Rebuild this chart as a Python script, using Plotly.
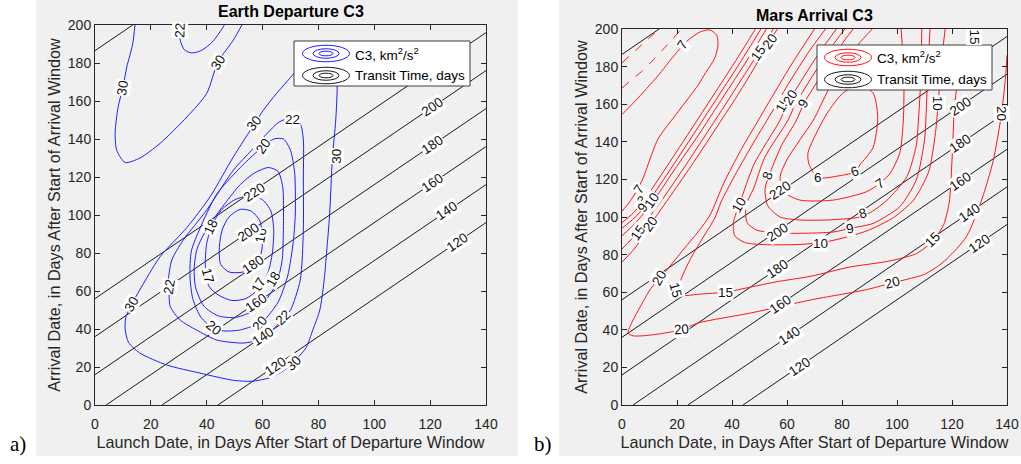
import plotly.graph_objects as go

W, H = 1021, 464
FONT = "Liberation Sans, Arial, sans-serif"
AXC = "#262626"
BLUE = "rgb(30,30,255)"
RED = "rgb(255,20,20)"
BLACK = "rgb(25,25,25)"

# ---------------- axes ticks ----------------
launch_ticks = [0, 20, 40, 60, 80, 100, 120, 140]
arrival_ticks = [0, 20, 40, 60, 80, 100, 120, 140, 160, 180, 200]

# ---------------- transit time lines ----------------
tof_levels = [220, 200, 180, 160, 140, 120]
tof_launch_start = [0, 0, 0, 4, 24, 44]
tof_arrival_start = [56, 36, 16, 0, 0, 0]
tof_launch_end = [140, 140, 140, 140, 140, 140]
tof_arrival_end = [196, 176, 156, 136, 116, 96]
tof_corner_launch = [0, 13.5]
tof_corner_arrival = [186.5, 200]

tof_labels_earth = [(220, 57, 112), (200, 54.8, 91), (200, 121, 157), (180, 56.7, 73.7),
                    (180, 121, 137), (160, 58, 53.7), (160, 121, 117), (140, 60.2, 35.8),
                    (140, 126, 102.6), (120, 64.5, 20.5), (120, 129.7, 85.5)]
tof_labels_mars = [(220, 57.5, 114), (200, 56.4, 92), (200, 123, 159), (180, 56.7, 72.5),
                   (180, 123, 139), (160, 57.5, 53.5), (160, 123, 119), (140, 61, 37),
                   (140, 126.5, 102.5), (120, 64.7, 20.7), (120, 130, 86)]

# ---------------- Earth departure C3 contours (launch, arrival) ----------------
earth_c3_16 = [(45, 74), (44.5, 82), (45.5, 92), (48, 99), (52, 103), (56, 102), (59, 97), (60, 88),
               (59.5, 80), (57, 74), (53, 70), (48, 70), (45, 74)]
earth_c3_17 = [(40, 66), (39.5, 75), (40, 85), (42, 95), (45.5, 103), (50, 108), (55, 110), (60, 108),
               (63, 102), (64, 92), (63.5, 80), (62, 70), (58.5, 61), (54, 56), (49, 55), (44, 58),
               (41, 62), (40, 66)]
earth_c3_18 = [(36, 62), (35.5, 72), (36.5, 82), (39, 90), (42, 97), (46.5, 106), (52, 116), (57, 122),
               (62, 125), (65.5, 123), (67.2, 115), (67.5, 100), (67.4, 88), (67, 76), (65, 64),
               (61, 55), (56, 49), (50, 46), (44, 47), (39, 52), (36, 62)]
earth_c3_20 = [(42.3, 40.6), (38, 46), (35, 56), (34, 68), (34.5, 81), (37.6, 93), (43.6, 111),
               (51.4, 124), (57, 132), (60.2, 136), (64, 140), (67.5, 140), (70, 134), (71.5, 122),
               (71.7, 100), (71, 86), (69, 68), (65.5, 54), (60, 44), (52, 39.5), (46, 39), (42.3, 40.6)]
earth_c3_22 = [(26.5, 62), (26.9, 52), (30.5, 44.7), (36.3, 39.5), (43.6, 34.2), (53, 32.6), (58, 34),
               (62.7, 38), (67.4, 45.8), (70, 50), (73.5, 65.8), (74.6, 92), (74.6, 120), (74.6, 139.5),
               (73.5, 148), (70.5, 151), (66, 149), (61, 142), (56, 134), (49.6, 123.7), (40, 102.6),
               (31.6, 86.8), (27.5, 76.3), (26.3, 66), (26.5, 62)]
earth_c3_22_top = [(30.5, 200), (30.5, 192), (32, 187), (34.5, 185.3), (38, 186.5), (42.3, 191.5),
                   (45.9, 199), (46.3, 200)]
earth_c3_30 = [(79, 190), (74, 181), (71.3, 174.7), (65, 164), (60.2, 155), (57.3, 148.4), (49.5, 130.5),
               (41.2, 109.6), (32.9, 93.4), (23.3, 78), (16, 60.5), (13, 52.6), (11, 46), (10.8, 40),
               (12, 33), (16, 27.4), (25.8, 21), (37.6, 16.8), (49.5, 13), (56, 12.5), (63, 14.5),
               (68, 18.5), (72, 24), (75.5, 30), (78, 39.5), (80.5, 50), (82, 65), (83, 81.6), (84, 100),
               (85, 130), (86.2, 150), (86.7, 168), (86, 182), (83, 189), (79, 190)]
earth_c3_30_top = [(14.3, 200), (13.5, 190), (11.4, 178), (10, 167), (8.3, 157), (7.2, 143), (7.8, 134),
                   (10.8, 127.6), (16.1, 130), (23.3, 137.7), (32.9, 151.6), (40, 164), (44, 180.5),
                   (49.5, 192), (52.6, 200)]

earth_c3_labels = [("30", 10, 167, -80), ("22", 30.5, 197, -88), ("30", 44, 180.5, -58),
                   ("30", 57, 148, -50), ("22", 70.6, 150.5, 0), ("20", 60.2, 136, -55),
                   ("30", 86.2, 131, -90), ("18", 41.5, 94, -65), ("17", 40.5, 68.4, 75),
                   ("22", 26.5, 62, -80), ("30", 13, 53, -60), ("20", 42.3, 40.6, 40),
                   ("16", 59.5, 89, -80), ("17", 58.5, 63, -60), ("18", 63.8, 66, -60),
                   ("20", 59, 43, -50), ("22", 67.4, 45.8, -45), ("30", 71, 22, -45)]

# ---------------- Mars arrival C3 contours (launch, arrival) ----------------
mars_c3_6 = [(68, 128), (67.6, 134), (69.5, 141), (74.5, 155), (80.4, 166), (86.5, 170), (91.3, 166),
             (93, 153), (91.3, 137), (86.5, 127.7), (84.7, 124), (79.3, 122), (71.3, 121), (68, 128)]
mars_c3_7 = [(91, 200), (86, 192), (80, 180), (75, 167.5), (69.6, 151.6), (64.7, 141), (59.9, 130.3),
             (57.5, 121.5), (58.7, 113.5), (64.7, 109), (76.8, 109), (89, 113.5), (93.8, 118),
             (97.5, 123.2), (101, 134), (102.3, 151.6), (102.5, 175), (101.5, 200)]
mars_c3_8 = [(84, 200), (78, 188), (71, 172), (66, 160), (63.5, 151.6), (58, 138), (54, 124), (52, 115),
             (53, 106), (57.5, 100), (64.7, 98.4), (76, 98.5), (86.5, 100), (91, 103), (96.4, 109),
             (103.6, 121.5), (107, 138), (107.8, 151.6), (108.7, 175), (109, 200)]
mars_c3_9 = [(81, 200), (75, 188), (68, 172), (63, 160), (60.4, 151.6), (52, 132), (47.8, 115), (45, 106),
             (45.5, 97), (49, 93), (58.7, 91.4), (76.8, 92), (83, 94), (91.3, 96.6), (101, 105.5),
             (107, 119.7), (110, 141), (111, 170), (112, 200)]
mars_c3_10 = [(78, 200), (72, 188), (65, 172), (60, 160), (57.5, 151.6), (48, 128), (43, 108), (40.5, 97),
              (41, 90), (44.5, 86.5), (50, 85.4), (64.7, 85.4), (75.6, 87.2), (89, 92.6), (98.7, 99.7),
              (106, 109), (111.5, 124), (114, 145), (115, 160.6), (116, 180), (117.5, 200)]
mars_c3_15 = [(74, 200), (68, 188), (61, 172), (55, 157), (48, 140), (41, 122), (36, 108), (33.8, 99.5),
              (30, 90.4), (25, 78), (21.5, 67), (20.4, 60), (22, 58.3), (28.4, 59), (37.5, 60), (47, 62.8),
              (56, 65.5), (68.7, 68.5), (82.9, 73.4), (95, 76), (101, 77.8), (107, 80.5), (111, 84.5),
              (114, 89), (117, 96), (119, 108), (120, 130), (121, 160), (123, 180), (126, 193), (129, 200)]
mars_c3_20 = [(70, 200), (62, 182), (55, 165), (49, 150), (43, 135), (37, 118), (32, 101), (27.6, 92),
              (22.8, 83.5), (17.8, 74.5), (13.8, 67.6), (10.5, 62), (6.9, 53), (3.8, 44.5), (2.2, 38.3),
              (4, 36.8), (10.5, 37.2), (21.5, 40), (27.6, 43.6), (47, 49), (68.7, 55.9), (89, 61.4),
              (98.5, 65), (104, 67), (110, 69.5), (116, 75), (121, 82), (124.5, 88), (126.5, 93),
              (131, 110), (135, 130), (138, 155), (139.5, 175), (140, 186)]
mars_c3_7_valley = [(0, 154.5), (5, 162), (13, 175), (19, 186), (24, 194), (28.5, 198.5), (32, 199.5),
                    (34.5, 196.5), (34.9, 191.5), (33.7, 184.4), (30.5, 177), (27.6, 170), (20.4, 156),
                    (13.1, 141.5), (9.5, 128), (7.6, 120.4), (5, 113), (2.5, 107.5), (0, 103)]
mars_c3_8_valley = [(0, 97), (4, 102), (7.6, 108), (15, 124), (24, 144), (32, 162), (40, 180), (46, 194),
                    (48.5, 200)]
mars_c3_9_valley = [(0, 94), (4.5, 99.5), (8.5, 106), (17, 124), (26, 144), (34, 162), (42, 180),
                    (48, 194), (50.5, 200)]
mars_c3_10_valley = [(0, 90), (5, 97), (10.7, 107), (19, 125), (28, 144), (36, 162), (44, 180),
                     (50, 194), (52.5, 200)]
mars_c3_15_valley = [(0, 83), (5.8, 92), (14, 108), (22, 125), (31, 145), (39, 163), (46, 179),
                     (49.5, 187), (55, 200)]
mars_c3_20_valley = [(0, 76), (5, 84), (10.2, 95.7), (18, 112), (26, 129), (35, 149), (43, 167),
                     (50, 184), (53.7, 193.6), (56.5, 200)]
mars_c3_corner_a = [(0, 168.6), (3.5, 173), (7.6, 178), (11, 183), (14.5, 188.5), (18, 194), (21, 199)]
mars_c3_corner_b = [(0, 182), (3, 186), (6, 190), (9, 194), (12, 198)]

mars_c3_labels = [("7", 22.2, 191.5, -55), ("7", 6.1, 114.7, -55), ("8", 7.2, 109, -55),
                  ("9", 7.6, 105, -55), ("10", 10.8, 109, -55), ("15", 5.8, 92, -55),
                  ("20", 10.2, 96, -55), ("15", 49.5, 187, -55), ("20", 53.7, 193.6, -55),
                  ("10", 42.8, 106.4, -60), ("8", 53, 122, -70), ("15", 58.5, 160, -60),
                  ("20", 61.3, 163.5, -60), ("9", 65.8, 160.6, -60), ("6", 71.3, 121, 0),
                  ("6", 84.7, 124, -20), ("7", 93.8, 118, -35), ("8", 87.6, 102, -15),
                  ("9", 83, 94, -10), ("10", 72, 86, 0), ("10", 115, 160.6, 90),
                  ("15", 128, 196, 90), ("20", 138, 155, 90), ("15", 37.5, 60, 0),
                  ("15", 19.6, 61, 75), ("20", 13.8, 67.6, -60), ("20", 21.5, 40, -5),
                  ("20", 98.5, 65, -15), ("15", 113, 88, -45)]

panel_titles = ["Earth Departure C3", "Mars Arrival C3"]
x_title = "Launch Date, in Days After Start of Departure Window"
y_title = "Arrival Date, in Days After Start of Arrival Window"
legend_texts = ["C3, km<sup>2</sup>/s<sup>2</sup>", "Transit Time, days"]
panel_tags = ["a)", "b)"]

fig = go.Figure()


def add_curve(pts, color, xa, ya, dash="solid", shape="spline"):
    fig.add_trace(go.Scatter(x=[p[0] for p in pts], y=[p[1] for p in pts], mode="lines",
                             line=dict(color=color, width=1, dash=dash, shape=shape, smoothing=0.7),
                             xaxis=xa, yaxis=ya, showlegend=False, hoverinfo="skip"))


for xa, ya in (("x", "y"), ("x2", "y2")):
    for i in range(len(tof_levels)):
        add_curve([(tof_launch_start[i], tof_arrival_start[i]), (tof_launch_end[i], tof_arrival_end[i])],
                  BLACK, xa, ya, shape="linear")
    add_curve(list(zip(tof_corner_launch, tof_corner_arrival)), BLACK, xa, ya, shape="linear")

for c in (earth_c3_16, earth_c3_17, earth_c3_18, earth_c3_20, earth_c3_22, earth_c3_22_top,
          earth_c3_30, earth_c3_30_top):
    add_curve(c, BLUE, "x", "y")

for c in (mars_c3_6, mars_c3_7, mars_c3_8, mars_c3_9, mars_c3_10, mars_c3_15, mars_c3_20,
          mars_c3_7_valley, mars_c3_8_valley, mars_c3_9_valley, mars_c3_10_valley,
          mars_c3_15_valley, mars_c3_20_valley):
    add_curve(c, RED, "x2", "y2")
for c in (mars_c3_corner_a, mars_c3_corner_b):
    add_curve(c, RED, "x2", "y2", dash="dash")

annotations = []
LBL = dict(family=FONT, size=13.5, color="#111111")
for lab, xv, yv, ang in earth_c3_labels:
    annotations.append(dict(text=lab, x=xv, y=yv, xref="x", yref="y", showarrow=False, textangle=ang,
                            font=LBL, bgcolor="white", borderpad=0))
for lab, xv, yv, ang in mars_c3_labels:
    annotations.append(dict(text=lab, x=xv, y=yv, xref="x2", yref="y2", showarrow=False, textangle=ang,
                            font=LBL, bgcolor="white", borderpad=0))
for (lab, xv, yv), (xr, yr) in [(t, ("x", "y")) for t in tof_labels_earth] + \
                               [(t, ("x2", "y2")) for t in tof_labels_mars]:
    annotations.append(dict(text=str(lab), x=xv, y=yv, xref=xr, yref=yr, showarrow=False,
                            textangle=-34, font=LBL, bgcolor="white", borderpad=0))


def px_x(px):
    return px / W


def px_y(py):
    return 1 - py / H


shapes = [
    dict(type="rect", xref="paper", yref="paper", x0=px_x(36), x1=px_x(518), y0=px_y(456), y1=1,
         fillcolor="#f0f0f0", line=dict(width=0), layer="below"),
    dict(type="rect", xref="paper", yref="paper", x0=px_x(559), x1=1, y0=px_y(456), y1=1,
         fillcolor="#f0f0f0", line=dict(width=0), layer="below"),
]

# panel titles, tags
for title, cx, cy in ((panel_titles[0], 290.5, 12), (panel_titles[1], 814.5, 16)):
    annotations.append(dict(text="<b>" + title + "</b>", x=px_x(cx), y=px_y(cy), xref="paper", yref="paper",
                            xanchor="center", yanchor="middle", showarrow=False,
                            font=dict(family=FONT, size=16, color="#000000")))
for tag, cx in ((panel_tags[0], 18), (panel_tags[1], 543)):
    annotations.append(dict(text=tag, x=px_x(cx), y=px_y(444), xref="paper", yref="paper", showarrow=False,
                            xanchor="center", yanchor="middle",
                            font=dict(family="Liberation Serif, Times New Roman, serif", size=21,
                                      color="#000000")))

# hand-made legends (MATLAB style concentric ellipse icons)
for (bx0, by0, bx1, by1, ex, color) in ((294, 41, 470, 86, 326, BLUE), (817, 45, 992, 90, 848, RED)):
    shapes.append(dict(type="rect", xref="paper", yref="paper", x0=px_x(bx0), x1=px_x(bx1),
                       y0=px_y(by1), y1=px_y(by0), fillcolor="white", line=dict(color="#3c3c3c", width=1),
                       layer="above"))
    rows = [by0 + 12.5, by0 + 34.5]
    for r, col in zip(rows, (color, BLACK)):
        for (w, h) in ((47, 16.5), (26, 9.5), (14, 4.6)):
            shapes.append(dict(type="circle", xref="paper", yref="paper", x0=px_x(ex - w / 2),
                               x1=px_x(ex + w / 2), y0=px_y(r + h / 2), y1=px_y(r - h / 2),
                               line=dict(color=col, width=1), layer="above"))
    for txt, r in zip(legend_texts, rows):
        annotations.append(dict(text=txt, x=px_x(ex + 27), y=px_y(r), xref="paper", yref="paper",
                                xanchor="left", yanchor="middle", showarrow=False,
                                font=dict(family=FONT, size=13.5, color="#000000")))

axis_common = dict(showline=True, mirror="ticks", linecolor=AXC, linewidth=1, ticks="inside", ticklen=5,
                   tickcolor=AXC, showgrid=False, zeroline=False,
                   tickfont=dict(family=FONT, size=14, color=AXC), automargin=False)
xcommon = dict(axis_common, range=[0, 140], tickvals=launch_ticks, ticklabelstandoff=6,
               title=dict(text=x_title, font=dict(family=FONT, size=16.2, color=AXC), standoff=5))
ycommon = dict(axis_common, range=[0, 200], tickvals=arrival_ticks,
               title=dict(text=y_title, font=dict(family=FONT, size=16.2, color=AXC), standoff=3))

fig.update_layout(
    width=W, height=H, margin=dict(l=0, r=0, t=0, b=0),
    paper_bgcolor="white", plot_bgcolor="white", showlegend=False,
    xaxis=dict(xcommon, domain=[px_x(95), px_x(486)], anchor="y"),
    yaxis=dict(ycommon, domain=[px_y(405), px_y(25)], anchor="x"),
    xaxis2=dict(xcommon, domain=[px_x(622), px_x(1007)], anchor="y2"),
    yaxis2=dict(ycommon, domain=[px_y(405), px_y(29)], anchor="x2"),
    shapes=shapes, annotations=annotations,
)

fig.write_html("out.html")
